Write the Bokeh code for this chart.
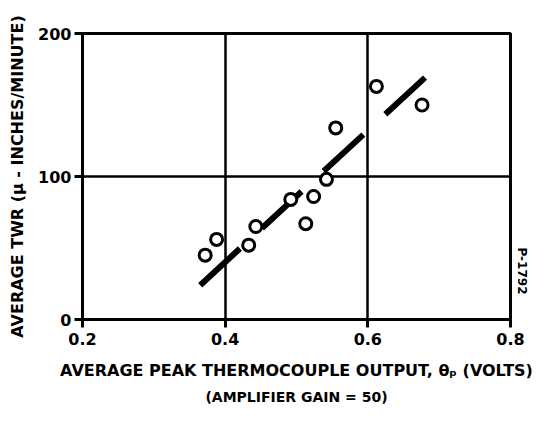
from bokeh.plotting import figure
from bokeh.models import Title, FixedTicker
from bokeh.embed import file_html
from bokeh.resources import INLINE

# Data
theta_p = [0.372, 0.388, 0.433, 0.443, 0.492, 0.513, 0.524, 0.542, 0.555, 0.612, 0.676]
twr = [45, 56, 52, 65, 84, 67, 86, 98, 134, 163, 150]
fit_x = [0.365, 0.682]
fit_y = [24, 170]
x_ticks = [0.2, 0.4, 0.6, 0.8]
y_ticks = [0, 100, 200]

FONT = "DejaVu Sans"

p = figure(width=542, height=409, x_range=(0.2, 0.8), y_range=(0, 200),
           output_backend="svg", toolbar_location=None,
           min_border_left=82, min_border_right=32, min_border_top=33, min_border_bottom=89)
p.background_fill_color = "white"
p.border_fill_color = "white"
p.outline_line_color = "black"
p.outline_line_width = 3

p.line(fit_x, fit_y, line_color="black", line_width=6, line_dash="54 30")
p.scatter(theta_p, twr, marker="circle", size=12, fill_color="white",
          line_color="black", line_width=3)

for ax in (p.xaxis[0], p.yaxis[0]):
    ax.axis_line_width = 3
    ax.axis_line_color = "black"
    ax.major_tick_line_width = 3
    ax.major_tick_line_color = "black"
    ax.major_tick_out = 8
    ax.major_tick_in = 0
    ax.minor_tick_line_color = None
    ax.major_label_text_font = FONT
    ax.major_label_text_font_style = "bold"
    ax.major_label_text_font_size = "16px"
    ax.major_label_text_color = "black"
    ax.axis_label_text_font = FONT
    ax.axis_label_text_font_style = "bold"
    ax.axis_label_text_color = "black"

p.xaxis[0].ticker = FixedTicker(ticks=x_ticks)
p.yaxis[0].ticker = FixedTicker(ticks=y_ticks)
p.xaxis[0].major_label_overrides = {0.2: "0.2", 0.4: "0.4", 0.6: "0.6", 0.8: "0.8"}
p.yaxis[0].major_label_overrides = {0: "0", 100: "100", 200: "200"}
p.xaxis[0].major_label_standoff = 5
p.yaxis[0].major_label_standoff = 3

p.xaxis[0].axis_label = "AVERAGE PEAK THERMOCOUPLE OUTPUT, θₚ (VOLTS)"
p.xaxis[0].axis_label_text_font_size = "16px"
p.xaxis[0].axis_label_standoff = 13
p.yaxis[0].axis_label = "AVERAGE TWR (μ - INCHES/MINUTE)"
p.yaxis[0].axis_label_text_font_size = "16px"
p.yaxis[0].axis_label_standoff = 8

p.xgrid.grid_line_color = "black"
p.xgrid.grid_line_width = 2.5
p.ygrid.grid_line_color = "black"
p.ygrid.grid_line_width = 2.5

p.add_layout(Title(text="(AMPLIFIER GAIN = 50)", align="center", text_font=FONT,
                   text_font_style="bold", text_font_size="14px", text_color="black",
                   standoff=9),
             "below")

p.add_layout(Title(text="P-1792", align="right", offset=25, text_font=FONT,
                   text_font_style="bold", text_font_size="12px", text_color="black",
                   standoff=8),
             "right")

open("out.html", "w").write(file_html(p, INLINE))
